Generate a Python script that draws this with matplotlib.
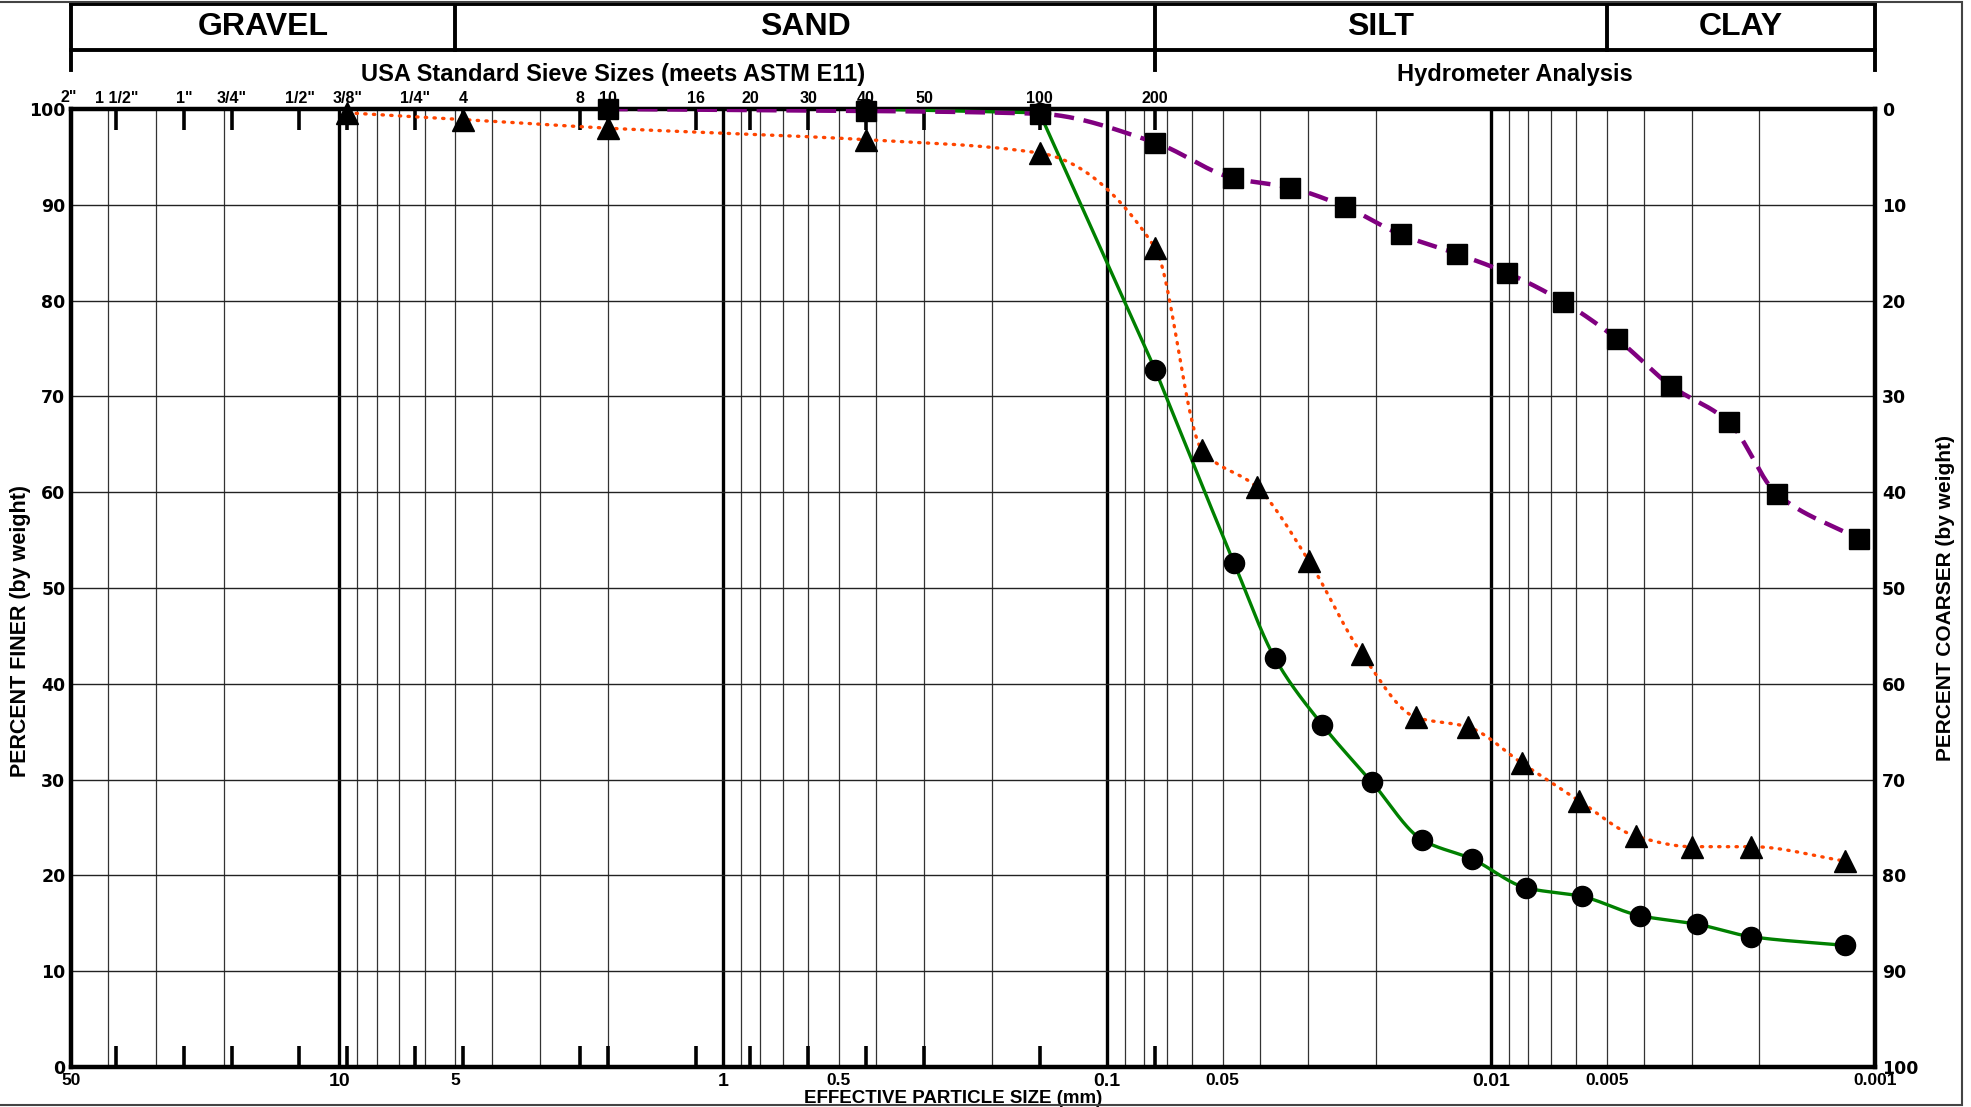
import matplotlib
matplotlib.use("Agg")
import matplotlib.pyplot as plt
from matplotlib.patches import Rectangle
import numpy as np

# sieve openings (mm) and their labels along the top edge
sieve_mm = [50.8, 38.1, 25.4, 19.05, 12.7, 9.525, 6.35, 4.75, 2.36, 2.0,
            1.18, 0.85, 0.6, 0.425, 0.3, 0.15, 0.075]
sieve_lbl = ['2"', '1 1/2"', '1"', '3/4"', '1/2"', '3/8"', '1/4"', '4', '8', '10',
             '16', '20', '30', '40', '50', '100', '200']

# size labels along the bottom edge
size_ticks = [50, 10, 5, 1, 0.5, 0.1, 0.05, 0.01, 0.005, 0.001]
size_lbl = ['50', '10', '5', '1', '0.5', '0.1', '0.05', '0.01', '0.005', '0.001']

# soil classes and their limits in mm
classes = ['GRAVEL', 'SAND', 'SILT', 'CLAY']
class_edges = [50, 5, 0.075, 0.005, 0.001]

# sample with squares (purple dashed)
sq_d = [2.0, 0.425, 0.15, 0.075, 0.0471, 0.0335, 0.0240, 0.0172, 0.0123,
        0.0091, 0.0065, 0.0047, 0.0034, 0.0024, 0.0018, 0.0011]
sq_p = [100, 99.8, 99.5, 96.5, 92.8, 91.8, 89.8, 86.9, 84.9,
        82.9, 79.9, 76.0, 71.1, 67.3, 59.8, 55.1]

# sample with triangles (orange dotted)
tr_d = [9.525, 4.75, 2.0, 0.425, 0.15, 0.075, 0.0566, 0.0407, 0.0298,
        0.0217, 0.0157, 0.0115, 0.0083, 0.0059, 0.0042, 0.0030, 0.0021, 0.0012]
tr_p = [99.6, 98.9, 98.0, 96.8, 95.4, 85.5, 64.4, 60.5, 52.8,
        43.1, 36.5, 35.5, 31.7, 27.8, 24.1, 23.0, 23.0, 21.5]

# sample with circles (green solid)
ci_d = [0.425, 0.15, 0.075, 0.0467, 0.0366, 0.0275, 0.0204, 0.0151,
        0.0112, 0.0081, 0.0058, 0.0041, 0.0029, 0.0021, 0.0012]
ci_p = [100, 99.6, 72.8, 52.6, 42.7, 35.7, 29.7, 23.7,
        21.7, 18.7, 17.8, 15.8, 14.9, 13.6, 12.7]


def smooth(d, p, n=60):
    # monotone cubic through the points, in log-size space
    u = -np.log10(np.asarray(d, float))
    y = np.asarray(p, float)
    h = np.diff(u)
    s = np.diff(y) / h
    m = np.zeros_like(y)
    m[0], m[-1] = s[0], s[-1]
    for k in range(1, len(u) - 1):
        if s[k - 1] * s[k] > 0:
            w1 = 2 * h[k] + h[k - 1]
            w2 = h[k] + 2 * h[k - 1]
            m[k] = (w1 + w2) / (w1 / s[k - 1] + w2 / s[k])
    us, ys = [], []
    for k in range(len(h)):
        t = np.linspace(0, 1, n)
        h00 = 2 * t**3 - 3 * t**2 + 1
        h10 = t**3 - 2 * t**2 + t
        h01 = -2 * t**3 + 3 * t**2
        h11 = t**3 - t**2
        us.append(u[k] + t * h[k])
        ys.append(h00 * y[k] + h10 * h[k] * m[k] + h01 * y[k + 1] + h11 * h[k] * m[k + 1])
    return 10 ** -np.concatenate(us), np.concatenate(ys)


bold = dict(fontweight='bold', family=['Liberation Sans', 'DejaVu Sans'])
narrow = dict(fontweight='bold', family=['Liberation Sans Narrow', 'Liberation Sans'])

fig = plt.figure(figsize=(19.71, 11.07), dpi=100)
ax = fig.add_axes([71 / 1971, 40 / 1107, 1804 / 1971, 958 / 1107])
ax.set_xscale('log')
ax.set_xlim(50, 0.001)
ax.set_ylim(0, 100)

# grid: thin lines at 2..9 of every decade, thick at decades
for e in range(-3, 2):
    for k in range(2, 10):
        v = k * 10.0 ** e
        if 0.001 < v < 50:
            ax.axvline(v, color='#333333', lw=0.9, zorder=1)
for v in [10, 1, 0.1, 0.01]:
    ax.axvline(v, color='black', lw=2.4, zorder=1)
for v in range(10, 100, 10):
    ax.axhline(v, color='#222222', lw=1.0, zorder=1)

# curves (green: straight through the sieve part, smooth in the hydrometer part)
xs, ys = smooth(ci_d[2:], ci_p[2:])
ax.plot(np.concatenate([ci_d[:2], xs]), np.concatenate([ci_p[:2], ys]),
        color='#008000', lw=2.4, zorder=3)
xs, ys = smooth(tr_d, tr_p)
ax.plot(xs, ys, color='#FF4500', lw=2.4, ls=(0, (0.4, 2.2)), dash_capstyle='round', zorder=3)
xs, ys = smooth(sq_d, sq_p)
ax.plot(xs, ys, color='#800080', lw=3.2, ls=(0, (4.5, 2.2)), zorder=3)

ax.plot(ci_d, ci_p, 'o', color='black', ms=14.5, ls='none', zorder=4, clip_on=False)
ax.plot(tr_d, tr_p, '^', color='black', ms=15.5, ls='none', zorder=4, clip_on=False)
ax.plot(sq_d, sq_p, 's', color='black', ms=15, ls='none', zorder=5, clip_on=False)

for s in ax.spines.values():
    s.set_linewidth(3.2)

# sieve ticks top and bottom, labels on top
ax.set_xticks(sieve_mm[1:], sieve_lbl[1:])
ax.tick_params(axis='x', which='major', direction='in', length=15, width=2.6,
               top=True, bottom=True, labeltop=True, labelbottom=False, pad=2,
               labelsize=11.5)
for t in ax.get_xticklabels():
    t.set_fontweight('bold')
    t.set_family(['Liberation Sans', 'DejaVu Sans'])
ax.text(sieve_mm[0], 1.004, sieve_lbl[0], transform=ax.get_xaxis_transform(),
        ha='center', va='bottom', fontsize=11.5, **bold)

# size labels on bottom
ax.set_xticks(size_ticks, size_lbl, minor=True)
ax.tick_params(axis='x', which='minor', length=0, top=False, bottom=True,
               labelbottom=True, labeltop=False, pad=4, labelsize=12.5)
for t in ax.get_xticklabels(minor=True):
    t.set_fontweight('bold')
    t.set_family(['Liberation Sans', 'DejaVu Sans'])
    if t.get_text() in ('10', '1', '0.1', '0.01'):
        t.set_fontsize(14)

# percent finer, left
ax.set_yticks(range(0, 101, 10))
ax.tick_params(axis='y', length=0, pad=4, labelsize=12.5)
for t in ax.get_yticklabels():
    t.set_fontweight('bold')
ax.set_ylabel('PERCENT FINER (by weight)', fontsize=15.5, **narrow)
ax.yaxis.set_label_coords(-0.022, 0.455)

# percent coarser, right
ax2 = ax.twinx()
ax2.set_ylim(100, 0)
ax2.set_yticks(range(0, 101, 10))
ax2.tick_params(axis='y', length=0, pad=5, labelsize=12.5)
for t in ax2.get_yticklabels():
    t.set_fontweight('bold')
for s in ax2.spines.values():
    s.set_visible(False)
ax2.set_ylabel('PERCENT COARSER (by weight)', fontsize=15, **narrow)
ax2.yaxis.set_label_coords(1.034, 0.49)

ax.set_xlabel('EFFECTIVE PARTICLE SIZE (mm)', fontsize=13.5, **narrow)
ax.xaxis.set_label_coords(0.489, -0.0235)

# class header above the plot
tr = ax.get_xaxis_transform()
fy = lambda ypix: (1067 - ypix) / 958
hk = dict(transform=tr, clip_on=False, color='black', lw=2.8, solid_capstyle='projecting')
ax.plot([50, 0.001], [fy(4), fy(4)], **hk)
ax.plot([50, 0.001], [fy(50), fy(50)], **hk)
for v in [50, 0.075, 0.001]:
    ax.plot([v, v], [fy(4), fy(70)], **hk)
for v in [5, 0.005]:
    ax.plot([v, v], [fy(4), fy(50)], **hk)
for name, a, b in zip(classes, class_edges[:-1], class_edges[1:]):
    ax.text(np.sqrt(a * b), fy(27), name, transform=tr, ha='center', va='center',
            fontsize=23, **bold)
ax.text(np.sqrt(50 * 0.075), fy(74), 'USA Standard Sieve Sizes (meets ASTM E11)',
        transform=tr, ha='center', va='center', fontsize=17, **bold)
ax.text(np.sqrt(0.075 * 0.001), fy(74), 'Hydrometer Analysis',
        transform=tr, ha='center', va='center', fontsize=17, **bold)

fig.patches.append(Rectangle((-0.01, 0.002), 1962 / 1971 + 0.01, 0.996,
                             transform=fig.transFigure, fill=False,
                             edgecolor='#444444', lw=1.5))

fig.savefig('out.png', dpi=100)
